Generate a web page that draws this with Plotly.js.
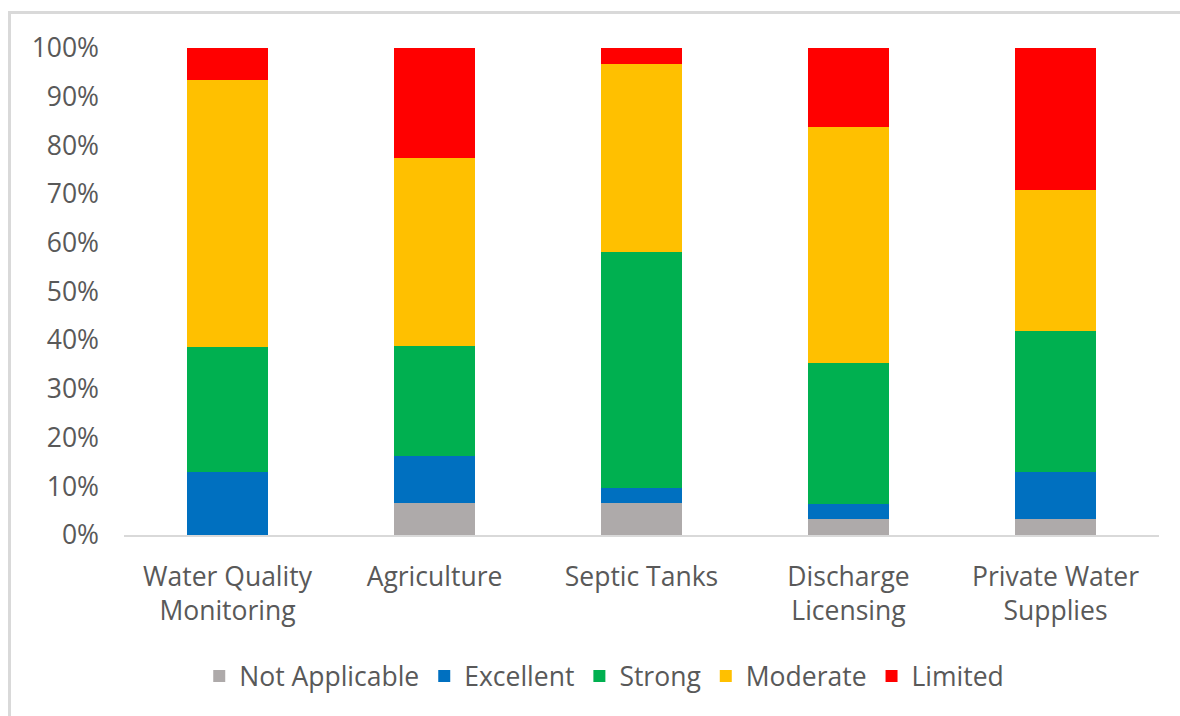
<!DOCTYPE html>
<html>
<head>
<meta charset="utf-8">
<script src="https://cdn.plot.ly/plotly-3.0.1.min.js"></script>
<style>
  html, body { margin: 0; padding: 0; background: #fff; overflow: hidden; }
  #frame { position: absolute; left: 8px; top: 11px; width: 1400px; height: 900px; border: 3px solid #d9d9d9; box-sizing: border-box; }
  #chart { position: absolute; left: 0; top: 0; width: 1180px; height: 716px; }
</style>
</head>
<body>
<div id="frame"></div>
<div id="chart"></div>
<script>
const categories = ["Water Quality<br>Monitoring", "Agriculture", "Septic Tanks", "Discharge<br>Licensing", "Private Water<br>Supplies"];
const notApplicable = [0, 6.5, 6.5, 3.2, 3.2];
const excellent = [12.9, 9.7, 3.2, 3.2, 9.7];
const strong = [25.8, 22.6, 48.4, 29.0, 29.0];
const moderate = [54.8, 38.7, 38.7, 48.4, 29.0];
const limited = [6.5, 22.6, 3.2, 16.1, 29.0];
const tickVals = [0, 10, 20, 30, 40, 50, 60, 70, 80, 90, 100];
const tickText = ["0%", "10%", "20%", "30%", "40%", "50%", "60%", "70%", "80%", "90%", "100%"];

const series = [
  {name: "Not Applicable", y: notApplicable, color: "#AEAAAA"},
  {name: "Excellent", y: excellent, color: "#0070C0"},
  {name: "Strong", y: strong, color: "#00B050"},
  {name: "Moderate", y: moderate, color: "#FFC000"},
  {name: "Limited", y: limited, color: "#FF0000"}
];

const traces = series.map(s => ({
  type: "bar",
  name: s.name,
  x: categories,
  y: s.y,
  marker: {color: s.color, line: {width: 0}},
  hoverinfo: "skip"
}));

const font = {family: "'Open Sans', sans-serif", size: 26.5, color: "#595959"};

const layout = {
  width: 1180,
  height: 716,
  paper_bgcolor: "rgba(0,0,0,0)",
  plot_bgcolor: "rgba(0,0,0,0)",
  barmode: "stack",
  bargap: 0.61,
  margin: {l: 124, r: 21, t: 48, b: 181},
  font: font,
  showlegend: true,
  legend: {
    orientation: "h",
    x: 0.464, xanchor: "center",
    y: -0.29, yanchor: "middle",
    traceorder: "normal",
    font: font,
    itemwidth: 30,
    tracegroupgap: 0
  },
  xaxis: {
    showgrid: false,
    showline: true,
    linecolor: "#d9d9d9",
    linewidth: 2,
    ticks: "",
    tickfont: font,
    ticklabelstandoff: 17,
    fixedrange: true
  },
  yaxis: {
    range: [0, 100],
    tickvals: tickVals,
    ticktext: tickText,
    showgrid: false,
    showline: false,
    zeroline: false,
    ticks: "",
    tickfont: font,
    ticklabelstandoff: 24,
    fixedrange: true
  }
};

Plotly.newPlot("chart", traces, layout, {displayModeBar: false, staticPlot: true});
</script>
</body>
</html>
